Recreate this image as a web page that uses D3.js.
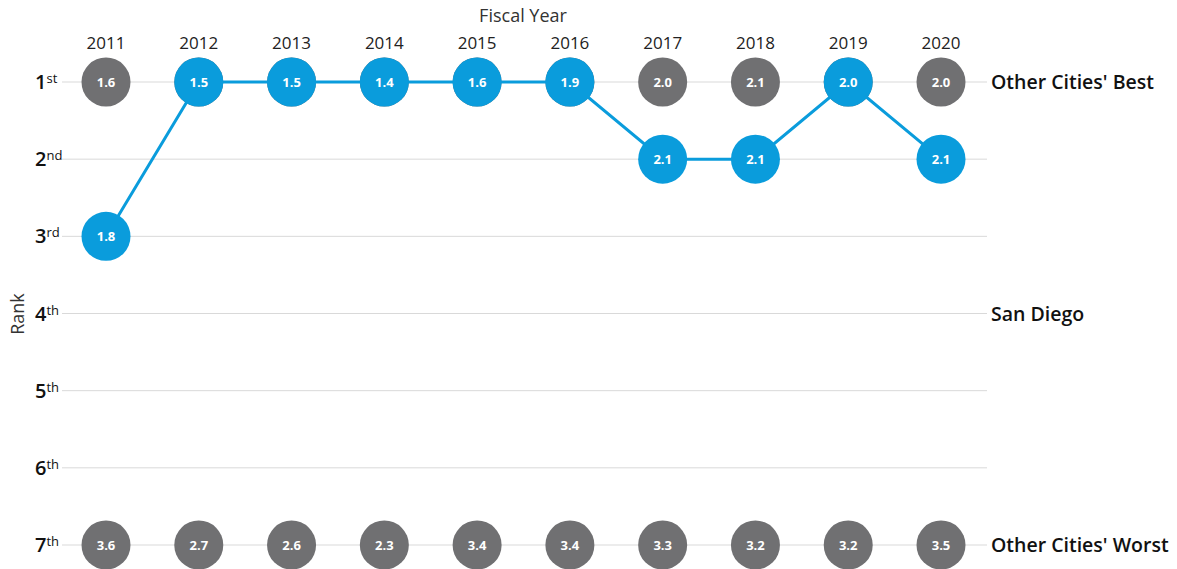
<!DOCTYPE html>
<html>
<head>
<meta charset="utf-8">
<script src="https://cdn.jsdelivr.net/npm/d3@7"></script>
<style>
  body { margin: 0; background: #fff; font-family: "Open Sans", sans-serif; }
</style>
</head>
<body>
<div id="chart"></div>
<script>
const years = ["2011", "2012", "2013", "2014", "2015", "2016", "2017", "2018", "2019", "2020"];
const ranks = [1, 2, 3, 4, 5, 6, 7];
const rankSuffix = ["st", "nd", "rd", "th", "th", "th", "th"];
const sdRank = [3, 1, 1, 1, 1, 1, 2, 2, 1, 2];
const sdValue = [1.8, 1.5, 1.5, 1.4, 1.6, 1.9, 2.1, 2.1, 2.0, 2.1];
const bestValue = [1.6, 1.5, 1.5, 1.4, 1.6, 1.9, 2.0, 2.1, 2.0, 2.0];
const worstValue = [3.6, 2.7, 2.6, 2.3, 3.4, 3.4, 3.3, 3.2, 3.2, 3.5];
const sideLabels = [
  { rank: 1, text: "Other Cities' Best" },
  { rank: 4, text: "San Diego" },
  { rank: 7, text: "Other Cities' Worst" },
];

const width = 1177;
const height = 569;
const blue = "#0a9cdc";
const gray = "#707072";

const svg = d3
  .select("#chart")
  .append("svg")
  .attr("width", width)
  .attr("height", height);

const x = d3.scalePoint().domain(years).range([106, 941]);
const y = d3.scaleLinear().domain([1, 7]).range([82, 545]);

// grid lines
svg
  .append("g")
  .selectAll("line")
  .data(ranks)
  .enter()
  .append("line")
  .attr("x1", 62)
  .attr("x2", 987)
  .attr("y1", (d) => y(d))
  .attr("y2", (d) => y(d))
  .attr("stroke", "#d9d9d9")
  .attr("stroke-width", 1);

// rank labels
const rankText = svg
  .append("g")
  .selectAll("text")
  .data(ranks)
  .enter()
  .append("text")
  .attr("x", 35)
  .attr("y", (d) => y(d) + 7)
  .style("font-size", "20px")
  .style("font-weight", "600")
  .style("fill", "#111");
rankText.append("tspan").text((d) => d);
rankText
  .append("tspan")
  .attr("dy", -6)
  .style("font-size", "13px")
  .style("font-weight", "400")
  .text((d, i) => rankSuffix[i]);

// axis titles
svg
  .append("text")
  .attr("x", 523)
  .attr("y", 22)
  .attr("text-anchor", "middle")
  .style("font-size", "18px")
  .style("fill", "#333")
  .text("Fiscal Year");

svg
  .append("text")
  .attr("transform", "translate(24,314) rotate(-90)")
  .attr("text-anchor", "middle")
  .style("font-size", "18px")
  .style("fill", "#333")
  .text("Rank");

// year labels
svg
  .append("g")
  .selectAll("text")
  .data(years)
  .enter()
  .append("text")
  .attr("x", (d) => x(d))
  .attr("y", 49)
  .attr("text-anchor", "middle")
  .style("font-size", "17px")
  .style("fill", "#222")
  .text((d) => d);

// side labels
svg
  .append("g")
  .selectAll("text")
  .data(sideLabels)
  .enter()
  .append("text")
  .attr("x", 991)
  .attr("y", (d) => y(d.rank) + 7)
  .style("font-size", "19.5px")
  .style("font-weight", "600")
  .style("fill", "#111")
  .text((d) => d.text);

// gray markers for best and worst
function grayDots(vals, rank) {
  const g = svg
    .append("g")
    .selectAll("g")
    .data(vals)
    .enter()
    .append("g")
    .attr("transform", (d, i) => `translate(${x(years[i])},${y(rank)})`);
  g.append("circle").attr("r", 24.5).attr("fill", gray);
  g.append("text")
    .attr("text-anchor", "middle")
    .attr("dy", "0.35em")
    .style("font-size", "13px")
    .style("font-weight", "700")
    .style("fill", "#fff")
    .text((d) => d.toFixed(1));
}
grayDots(bestValue, 1);
grayDots(worstValue, 7);

// San Diego line
const sd = years.map((yr, i) => ({ year: yr, rank: sdRank[i], value: sdValue[i] }));
svg
  .append("path")
  .datum(sd)
  .attr("fill", "none")
  .attr("stroke", blue)
  .attr("stroke-width", 3)
  .attr("d", d3.line().x((d) => x(d.year)).y((d) => y(d.rank)));

const sdg = svg
  .append("g")
  .selectAll("g")
  .data(sd)
  .enter()
  .append("g")
  .attr("transform", (d) => `translate(${x(d.year)},${y(d.rank)})`);
sdg.append("circle").attr("r", 24.5).attr("fill", blue);
sdg
  .append("text")
  .attr("text-anchor", "middle")
  .attr("dy", "0.35em")
  .style("font-size", "13px")
  .style("font-weight", "700")
  .style("fill", "#fff")
  .text((d) => d.value.toFixed(1));
</script>
</body>
</html>
